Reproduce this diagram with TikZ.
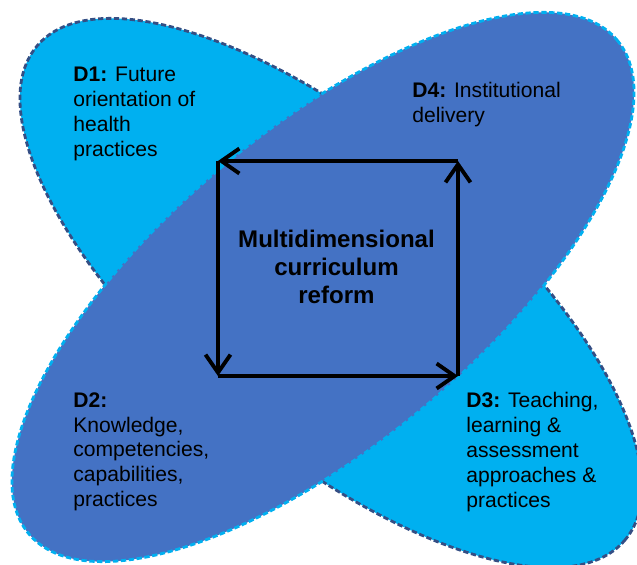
\documentclass[tikz,border=0pt]{standalone}
\usepackage{fontspec}
\setmainfont{Liberation Sans}
\usepackage{tikz}
\usetikzlibrary{arrows.meta}
\usepackage{xcolor}
\definecolor{petalA}{RGB}{0, 176, 240}
\definecolor{petalB}{RGB}{68, 114, 196}
\definecolor{edgeA}{RGB}{52, 78, 132}

\begin{document}
\begin{tikzpicture}[x=0.02cm, y=-0.02cm,
    petal/.style={line width=1.6pt, dash pattern=on 3pt off 1.5pt},
    dimtext/.style={anchor=north west, inner sep=0pt, align=left,
      font=\fontsize{12}{14.2}\selectfont},
    cycle/.style={line width=2.2pt, -{Straight Barb[length=3.6mm, width=5mm]}}]
  \useasboundingbox (0,0) rectangle (637,565);
  \clip (0,0) rectangle (637,565);
  % the two crossing ellipses, D2/D4 on top
  \draw[petal, fill=petalA, draw=edgeA, rotate around={-40:(331,293)}]
    (331,293) ellipse [x radius=384, y radius=157];
  \draw[petal, fill=petalB, draw=petalA, rotate around={40:(323,287)}]
    (323,287) ellipse [x radius=384, y radius=157];
  % dimensions
  \node[dimtext] (d1) at (73,67) {\textbf{D1:} Future\\orientation of\\health\\practices};
  \node[dimtext] (d4) at (412,82) {\textbf{D4:} Institutional\\delivery};
  \node[dimtext] (d2) at (73,392) {\textbf{D2:}\\Knowledge,\\competencies,\\capabilities,\\practices};
  \node[dimtext] (d3) at (466,392) {\textbf{D3:} Teaching,\\learning \&\\assessment\\approaches \&\\practices};
  % centre
  \node[inner sep=0pt, align=center, font=\fontsize{13.7}{16}\selectfont\bfseries]
    (reform) at (336.5,267) {Multidimensional\\curriculum\\reform};
  \coordinate (tl) at (218,161);
  \coordinate (tr) at (458,161);
  \coordinate (br) at (458,376);
  \coordinate (bl) at (218,376);
  \draw[cycle] (tl) -- (bl);
  \draw[cycle] (bl) -- (br);
  \draw[cycle] (br) -- (tr);
  \draw[cycle] (tr) -- (tl);
\end{tikzpicture}
\end{document}
